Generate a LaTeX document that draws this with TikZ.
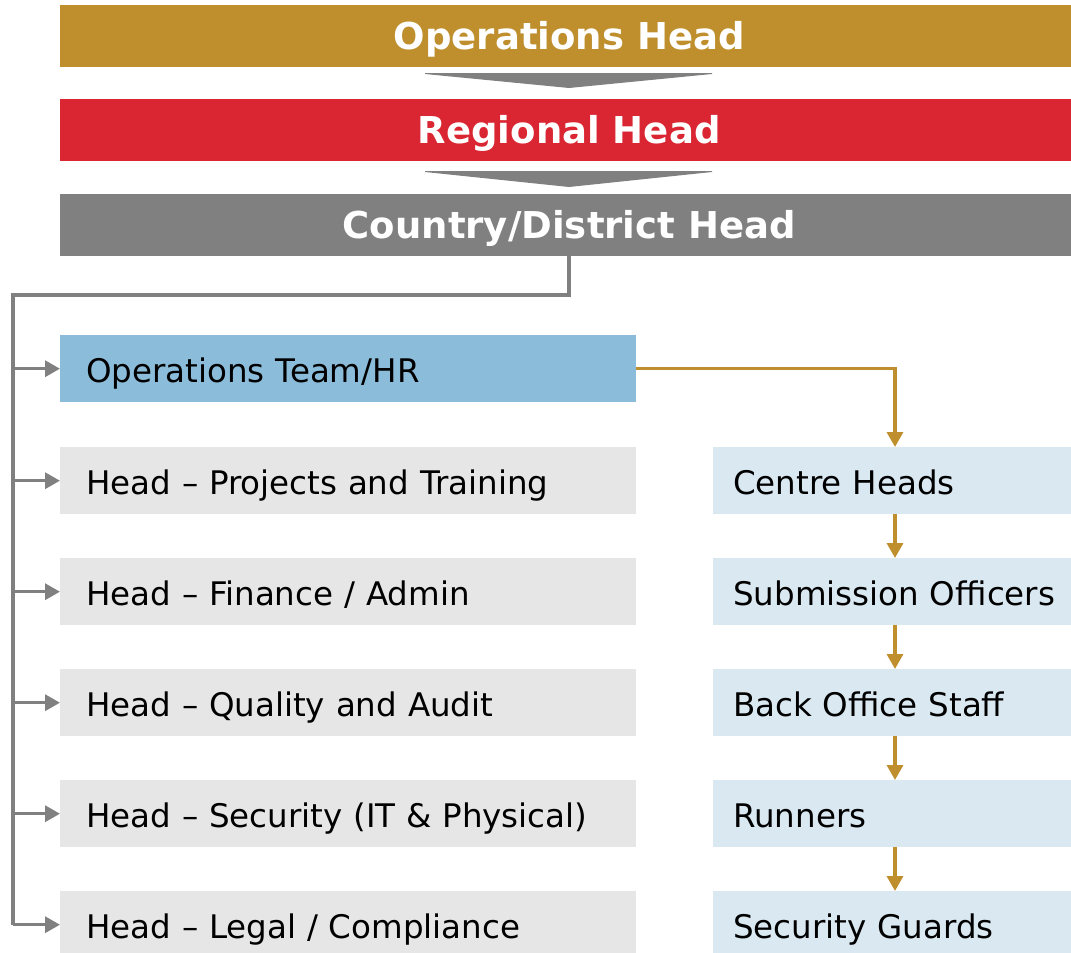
\documentclass[tikz,border=0pt]{standalone}
\usepackage{fontspec}
\setmainfont{DejaVu Sans}
\usetikzlibrary{arrows.meta}
\definecolor{gold}{HTML}{BF8F2E}
\definecolor{redbar}{HTML}{DA2632}
\definecolor{graybar}{HTML}{808080}
\definecolor{opsblue}{HTML}{8BBCDA}
\definecolor{lightgray}{HTML}{E6E6E6}
\definecolor{lightblue}{HTML}{D9E8F1}
\tikzset{
  headbar/.style={anchor=north west, minimum width=1018pt, minimum height=62pt, inner sep=0pt,
    text height=27pt, text depth=0pt,
    text=white, font=\fontsize{37}{40}\selectfont\bfseries},
  leftbox/.style={anchor=north west, minimum height=67pt, text width=524pt, inner xsep=26pt, inner ysep=0pt,
    text height=26.6pt, text depth=0pt,
    align=left, fill=lightgray, text=black, font=\fontsize{32.5}{36}\selectfont},
  rightbox/.style={anchor=north west, minimum height=67pt, text width=338pt, inner xsep=20pt, inner ysep=0pt,
    text height=26.6pt, text depth=0pt,
    align=left, fill=lightblue, text=black, font=\fontsize{32.5}{36}\selectfont},
  chev/.style={fill=graybar, draw=none},
  grayconn/.style={draw=graybar, line width=3.3pt, -{Triangle[length=15pt,width=16pt]}},
  grayline/.style={draw=graybar, line width=3.3pt},
  goldconn/.style={draw=gold, line width=3.3pt, -{Triangle[length=15pt,width=16pt]}},
}
\begin{document}
\begin{tikzpicture}[x=1pt,y=-1pt]
\useasboundingbox (0,0) rectangle (1071,953);
% header bars
\node[headbar, fill=gold] (ops) at (60,5) {Operations Head};
\node[headbar, fill=redbar] (reg) at (60,99) {Regional Head};
\node[headbar, fill=graybar] (cty) at (60,194) {Country/District Head};
% chevrons
\fill[chev] (425,73) -- (712,73) -- (712,74) -- (569,88) -- (425,74) -- cycle;
\fill[chev] (425,171) -- (712,171) -- (712,172) -- (569,187) -- (425,172) -- cycle;
% left column
\node[leftbox, fill=opsblue] (hr) at (60,335) {Operations Team/HR};
\node[leftbox] (proj) at (60,447) {Head – Projects and Training};
\node[leftbox] (fin) at (60,558) {Head – Finance / Admin};
\node[leftbox] (qa) at (60,669) {Head – Quality and Audit};
\node[leftbox] (sec) at (60,780) {Head – Security (IT \& Physical)};
\node[leftbox] (leg) at (60,891) {Head – Legal / Compliance};
% right column
\node[rightbox] (ch) at (713,447) {Centre Heads};
\node[rightbox] (so) at (713,558) {Submission Officers};
\node[rightbox] (bo) at (713,669) {Back Office Staff};
\node[rightbox] (run) at (713,780) {Runners};
\node[rightbox] (sg) at (713,891) {Security Guards};
% gray tree connector
\coordinate (c1) at (569,295);
\coordinate (c2) at (13,295);
\draw[grayline] (569,256) -- (c1) -- (c2) -- (13,924.5);
\foreach \n in {hr,proj,fin,qa,sec,leg}{
  \draw[grayconn] (\n.west -| c2) -- (\n.west);
}
% gold connectors
\draw[goldconn] (hr.east) -- (hr.east -| 895,0) -- (ch.north -| 895,0);
\draw[goldconn] (ch.south -| 895,0) -- (so.north -| 895,0);
\draw[goldconn] (so.south -| 895,0) -- (bo.north -| 895,0);
\draw[goldconn] (bo.south -| 895,0) -- (run.north -| 895,0);
\draw[goldconn] (run.south -| 895,0) -- (sg.north -| 895,0);
\end{tikzpicture}
\end{document}
